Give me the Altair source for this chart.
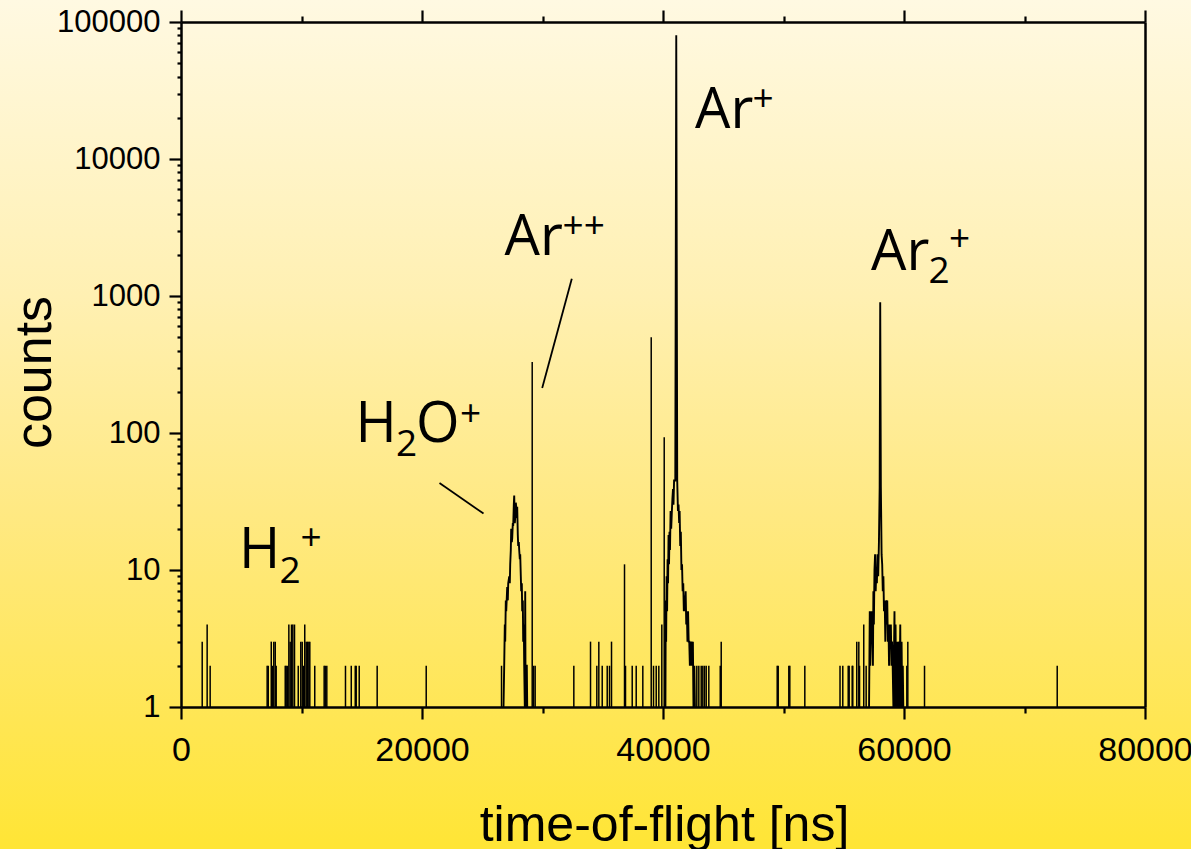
import altair as alt
import pandas as pd

# ---------------- data ----------------
# isolated single-bin events (time-of-flight in ns, counts)
spike_tof = [1760, 2170, 2420, 7150, 7240, 7490, 7590, 7700, 7820, 7900,
             8650, 8730, 8840, 8950, 9060, 9170, 9280, 9420, 9730, 9940,
             10060, 10170, 10270, 10390, 10500, 10610, 10690, 11100, 11880,
             11970, 12100, 13650, 14130, 14460, 14540, 14790, 16280, 20350,
             26600, 29146, 29260, 29390, 32600, 33985, 34508, 34674, 34956,
             35371, 35561, 35727, 36806, 36889, 37445, 37777, 38325,
             39022, 39213, 39437, 39653, 39902, 40101,
             42806, 42972, 43171, 43304, 43445, 43586, 43802, 44750, 44831,
             49478, 49561, 50441, 50524, 51769,
             54690, 54920, 55370, 55450, 55700, 55750, 56080, 56250, 56310,
             56660, 56860, 60234, 60317, 61703, 72715]
spike_counts = [3, 4, 2, 2, 2, 3, 2, 3, 3, 2,
                2, 2, 2, 4, 3, 4, 4, 4, 2, 3,
                3, 2, 4, 3, 3, 3, 3, 2, 2,
                2, 2, 2, 2, 2, 2, 2, 2, 2,
                2, 330, 2, 2, 2, 3, 2, 3, 2,
                2, 2, 3, 11, 2, 2, 2, 2,
                500, 2, 2, 2, 4, 93,
                2, 2, 2, 2, 2, 2, 2, 2, 3,
                2, 2, 2, 2, 2,
                2, 2, 2, 2, 2, 2, 3, 3, 2,
                4, 2, 2, 3, 2, 2]

# H2O+ peak profile
h2o_tof = [26764, 26822, 26872, 26905, 26955, 26989, 27072, 27121, 27155, 27238,
           27287, 27320, 27370, 27403, 27453, 27486, 27536, 27569, 27619, 27652,
           27702, 27735, 27785, 27818, 27868, 27901, 27951, 27984, 28034, 28067,
           28117, 28150, 28200, 28233, 28283, 28316, 28366, 28399, 28449, 28482,
           28532, 28565, 28598, 28648, 28698, 28731]
h2o_counts = [1, 2, 4, 3, 6, 5, 7.5, 6, 8, 9,
              8, 11, 14, 20, 16, 17, 22, 21, 30, 35,
              22, 24, 31, 29, 24, 29, 18, 15, 16, 14,
              12, 13, 9, 7, 8, 5, 6, 3, 4, 2,
              1, 7, 1, 2, 2, 1]

# Ar+ peak profile
arp_tof = [40200, 40230, 40260, 40300, 40340, 40380, 40420, 40460, 40500, 40540,
           40580, 40630, 40680, 40730, 40780, 40830, 40870, 40920, 41020, 41100,
           41180, 41240, 41290, 41340, 41380, 41430, 41480, 41530, 41580, 41630,
           41680, 41730, 41780, 41830, 41880, 41930, 41980, 42030, 42080, 42130,
           42180, 42230, 42280, 42330, 42380, 42430, 42480, 42530, 42600, 42650]
arp_counts = [1, 6, 3, 9, 5, 12, 8, 18, 11, 19,
              14, 27, 20, 26, 33, 39, 30, 45, 45, 80000,
              45, 27, 30, 22, 27, 15, 19, 10, 11, 7,
              8, 5, 6.5, 5, 7, 4, 5, 3, 5, 3,
              3, 2, 3, 2, 3, 2, 3, 1, 2, 1]

# Ar2+ peak profile
ar2_tof = [57100, 57160, 57200, 57300, 57340, 57380, 57420, 57460, 57500, 57550,
           57600, 57650, 57700, 57750, 57800, 57860, 57920, 57980, 58026, 58080,
           58140, 58190, 58240, 58290, 58340, 58400, 58450, 58500, 58560, 58610,
           58660, 58710, 58760, 58810, 58860, 58910, 58960, 59010, 59060, 59120,
           59210, 59250, 59300, 59350, 59440, 59480, 59570, 59610, 59690, 59730,
           59800, 59850, 59900, 59940]
ar2_counts = [1, 5, 2, 5, 3, 4, 2, 7, 4, 10,
              13, 7, 10, 8, 13, 9, 16, 40, 900, 40,
              13, 11, 7, 9, 5, 6, 3, 6, 4, 6,
              3, 4, 2, 4, 3, 4, 2, 3, 2, 1,
              5, 1, 4, 1, 3, 1, 3, 1, 4, 1,
              3, 1, 2, 1]

# peak labels, pieces with sub/superscripts (anchor in data coordinates)
label_text = ["H", "2", "+",
              "H", "2", "O", "+",
              "Ar", "++",
              "Ar", "+",
              "Ar", "2", "+"]
label_tof = [4813, 8174, 9917,
             14481, 17842, 19502, 23153,
             26846, 31659,
             42664, 47428,
             57270, 62034, 63735]
label_count = [10.36, 8.05, 14.09,
               86.0, 67.5, 86.0, 112.5,
               1998, 2658,
               16773, 22318,
               1553, 1242, 2126]
label_size = [56, 37, 37,
              56, 37, 56, 37,
              56, 37,
              56, 37,
              56, 37, 37]

# leader lines
leader_tof1 = [32431, 21452]
leader_cnt1 = [1335, 43.2]
leader_tof2 = [29975, 25104]
leader_cnt2 = [213, 25.8]

x_ticks = [0, 10000, 20000, 30000, 40000, 50000, 60000, 70000, 80000]
y_ticks = [1, 2, 3, 4, 5, 6, 7, 8, 9,
           10, 20, 30, 40, 50, 60, 70, 80, 90,
           100, 200, 300, 400, 500, 600, 700, 800, 900,
           1000, 2000, 3000, 4000, 5000, 6000, 7000, 8000, 9000,
           10000, 20000, 30000, 40000, 50000, 60000, 70000, 80000, 90000,
           100000]

# ---------------- tables ----------------
spikes_df = pd.DataFrame({"tof": spike_tof, "count": spike_counts,
                          "base": [1] * len(spike_tof)})
profiles_df = pd.concat([
    pd.DataFrame({"tof": h2o_tof, "count": h2o_counts, "peak": "H2O+"}),
    pd.DataFrame({"tof": arp_tof, "count": arp_counts, "peak": "Ar+"}),
    pd.DataFrame({"tof": ar2_tof, "count": ar2_counts, "peak": "Ar2+"}),
])
labels_df = pd.DataFrame({"tof": label_tof, "count": label_count,
                          "txt": label_text, "size": label_size})
leaders_df = pd.DataFrame({"tof": leader_tof1, "count": leader_cnt1,
                           "tof2": leader_tof2, "count2": leader_cnt2})
frame_df = pd.DataFrame({"fx": [0, 80000], "fy": [1, 100000]})

FONT = "Liberation Sans"
major_x_test = "datum.value % 20000 === 0"
major_y_test = "indexof([1,10,100,1000,10000,100000], datum.value) >= 0"

xscale = alt.Scale(domain=[0, 80000], nice=False, zero=False)
yscale = alt.Scale(type="log", domain=[1, 100000], nice=False)

xaxis = alt.Axis(
    orient="bottom", values=x_ticks, format="d",
    tickSize={"condition": {"test": major_x_test, "value": 12}, "value": 6},
    tickWidth=2.2, tickColor="black", domainColor="black", domainWidth=2.5,
    labelExpr=f"{major_x_test} ? datum.label : ''",
    labelFont=FONT, labelFontSize=34, labelColor="black", labelPadding=14,
    labelOverlap=False, labelFlush=False,
    title="time-of-flight [ns]", titleFont=FONT, titleFontSize=50,
    titleFontWeight="normal", titleColor="black", titleBaseline="alphabetic",
    titleX=483, titleY=133, grid=False, zindex=1)

yaxis = alt.Axis(
    orient="left", values=y_ticks, format="d",
    tickSize={"condition": {"test": major_y_test, "value": 12}, "value": 4},
    tickWidth=2.2, tickColor="black", domainColor="black", domainWidth=2.5,
    labelExpr=f"{major_y_test} ? datum.label : ''",
    labelFont=FONT, labelFontSize=31, labelColor="black", labelPadding=9,
    labelOverlap=False, labelFlush=False,
    title="counts", titleFont=FONT, titleFontSize=52, titleFontWeight="normal",
    titleColor="black", titleBaseline="alphabetic", titleAngle=270,
    titleX=-131, titleY=350, grid=False, zindex=1)

X = alt.X("tof:Q", scale=xscale, axis=xaxis)
Y = alt.Y("count:Q", scale=yscale, axis=yaxis)

bg = alt.Chart(pd.DataFrame({"a": [0]})).mark_rect(
    fill=alt.Gradient(
        gradient="linear",
        stops=[alt.GradientStop(offset=0, color="#FFF9E2"),
               alt.GradientStop(offset=0.35, color="#FFF0B2"),
               alt.GradientStop(offset=0.6, color="#FFE983"),
               alt.GradientStop(offset=0.85, color="#FFE653"),
               alt.GradientStop(offset=1, color="#FFE535")],
        x1=0, x2=0, y1=0, y2=1),
    strokeWidth=0,
).encode(x=alt.value(-181), x2=alt.value(1010), y=alt.value(-22), y2=alt.value(827))

spikes = alt.Chart(spikes_df).mark_rule(color="black", strokeWidth=1.5).encode(
    x=X, y=Y, y2="base:Q")

profiles = alt.Chart(profiles_df).mark_line(
    color="black", strokeWidth=1.9, clip=True).encode(
    x=X, y=Y, detail="peak:N", order="tof:Q")

leaders = alt.Chart(leaders_df).mark_rule(color="black", strokeWidth=1.8).encode(
    x=X, y=Y, x2="tof2:Q", y2="count2:Q")

labels = alt.Chart(labels_df).mark_text(
    align="left", baseline="alphabetic", font="Open Sans", color="black").encode(
    x=X, y=Y, text="txt:N", size=alt.Size("size:Q", scale=None, legend=None))

inner = alt.layer(bg, spikes, profiles, leaders, labels)

frame = alt.Chart(frame_df).mark_point(opacity=0).encode(
    x=alt.X("fx:Q", scale=xscale, axis=alt.Axis(
        orient="top", values=x_ticks, labels=False, title=None,
        tickSize={"condition": {"test": major_x_test, "value": 12}, "value": 6},
        tickWidth=2.2, tickColor="black", domainColor="black", domainWidth=2.5,
        grid=False, zindex=1)),
    y=alt.Y("fy:Q", scale=yscale, axis=alt.Axis(
        orient="right", ticks=False, labels=False, title=None,
        domainColor="black", domainWidth=2.5, grid=False, zindex=1)),
)

chart = alt.layer(inner, frame).resolve_scale(
    x="independent", y="independent"
).properties(
    width=964, height=685,
    padding={"left": 181, "top": 22, "right": 46, "bottom": 142},
    autosize=alt.AutoSizeParams(type="none"),
    background="#FFE535",
).configure_view(stroke="transparent")

chart.save("out.html", embed_options={"renderer": "svg", "actions": False})
